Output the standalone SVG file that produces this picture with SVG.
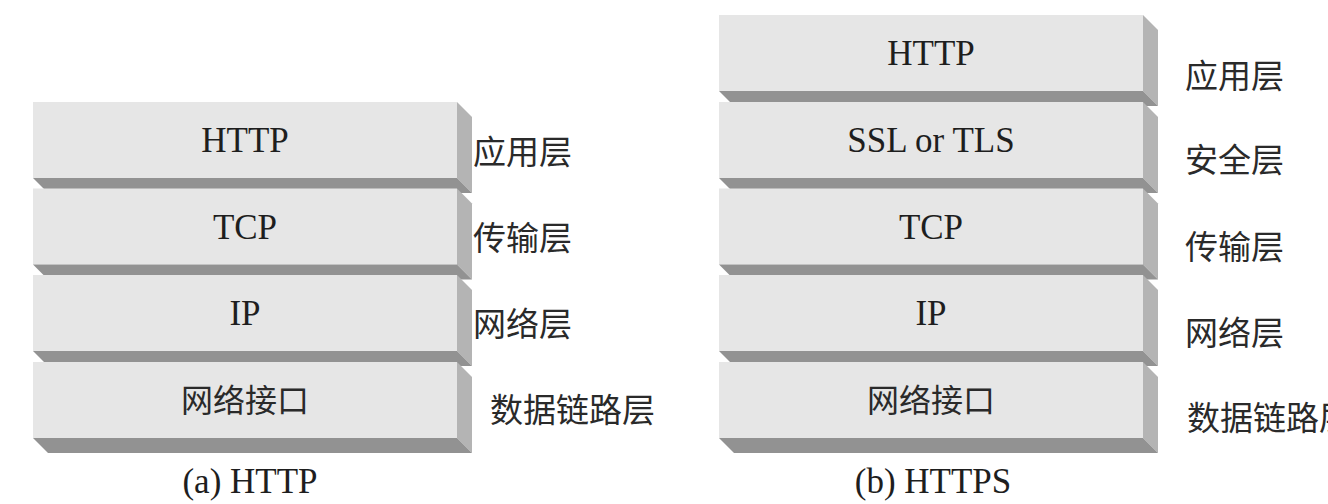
<svg xmlns="http://www.w3.org/2000/svg" width="1328" height="504" viewBox="0 0 1328 504">
<style>
.front{fill:#e6e6e6}
.side{fill:#b4b4b4}
.bottom{fill:#929292}
.lat{font-family:"Liberation Serif","Times New Roman",serif;font-size:35px;fill:#1e1e1e;text-anchor:middle}
.cjk{font-family:"Noto Sans CJK SC","Noto Sans",sans-serif;font-size:32px;fill:#2a2a2a;text-anchor:middle}
.lbl{font-family:"Noto Sans CJK SC","Noto Sans",sans-serif;font-size:33px;fill:#2a2a2a}
.cap{font-family:"Liberation Serif","Times New Roman",serif;font-size:35px;fill:#1e1e1e;text-anchor:middle}
</style>
<defs>
<g id="slab">
<rect class="front" x="0" y="0" width="424" height="76"/>
<polygon class="side" points="424,0 439,15 439,91 424,76"/>
<polygon class="bottom" points="0,76 424,76 439,91 15,91"/>
</g>
</defs>
<rect width="1328" height="504" fill="#ffffff"/>

<g id="http-stack">
<g id="a-http"><use href="#slab" x="33" y="102"/><text class="lat" x="245" y="152">HTTP</text></g>
<g id="a-tcp"><use href="#slab" x="33" y="188.5"/><text class="lat" x="245" y="238.5">TCP</text></g>
<g id="a-ip"><use href="#slab" x="33" y="275"/><text class="lat" x="245" y="325">IP</text></g>
<g id="a-nic"><use href="#slab" x="33" y="362"/><text class="cjk" x="245" y="412">网络接口</text></g>
<g id="a-labels">
<text class="lbl" x="473" y="164">应用层</text>
<text class="lbl" x="473" y="250">传输层</text>
<text class="lbl" x="473" y="336">网络层</text>
<text class="lbl" x="490" y="422">数据链路层</text>
</g>
<text id="a-caption" class="cap" x="250" y="493">(a) HTTP</text>
</g>

<g id="https-stack">
<g id="b-http"><use href="#slab" x="719" y="15"/><text class="lat" x="931" y="65">HTTP</text></g>
<g id="b-ssl"><use href="#slab" x="719" y="102"/><text class="lat" x="931" y="152">SSL or TLS</text></g>
<g id="b-tcp"><use href="#slab" x="719" y="188.5"/><text class="lat" x="931" y="238.5">TCP</text></g>
<g id="b-ip"><use href="#slab" x="719" y="275"/><text class="lat" x="931" y="325">IP</text></g>
<g id="b-nic"><use href="#slab" x="719" y="362"/><text class="cjk" x="931" y="412">网络接口</text></g>
<g id="b-labels">
<text class="lbl" x="1185" y="88">应用层</text>
<text class="lbl" x="1185" y="172">安全层</text>
<text class="lbl" x="1185" y="259">传输层</text>
<text class="lbl" x="1185" y="345">网络层</text>
<text class="lbl" x="1187" y="430">数据链路层</text>
</g>
<text id="b-caption" class="cap" x="933" y="493">(b) HTTPS</text>
</g>
</svg>
